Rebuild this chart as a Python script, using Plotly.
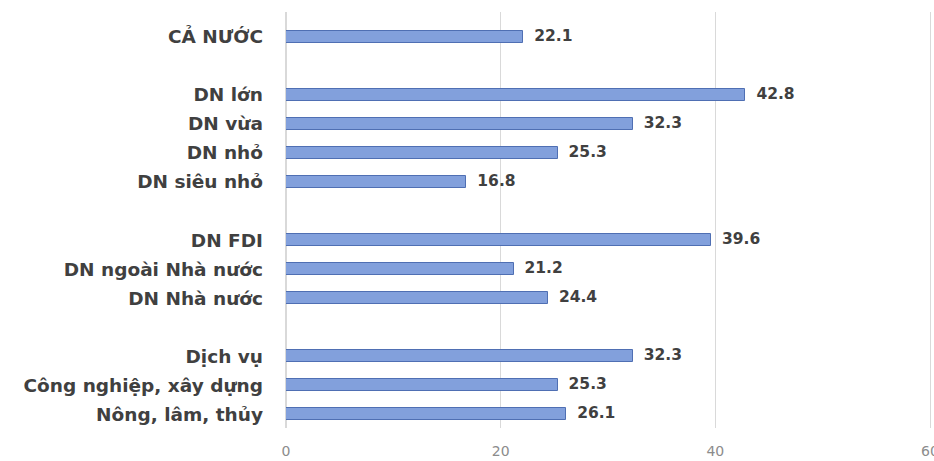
import plotly.graph_objects as go

# Grouped categories (top to bottom); a blank row separates each group
groups = [
    ["CẢ NƯỚC"],
    ["DN lớn", "DN vừa", "DN nhỏ", "DN siêu nhỏ"],
    ["DN FDI", "DN ngoài Nhà nước", "DN Nhà nước"],
    ["Dịch vụ", "Công nghiệp, xây dựng", "Nông, lâm, thủy"],
]
values = [
    [22.1],
    [42.8, 32.3, 25.3, 16.8],
    [39.6, 21.2, 24.4],
    [32.3, 25.3, 26.1],
]
x_ticks = [0, 20, 40, 60]

labels, vals, rows = [], [], []
r = 0
for g, v in zip(groups, values):
    for name, val in zip(g, v):
        labels.append(name)
        vals.append(val)
        rows.append(r)
        r += 1
    r += 1  # blank separator row
n_rows = r - 1

FONT = "DejaVu Sans, Verdana, sans-serif"

fig = go.Figure()
fig.add_trace(go.Bar(
    x=vals, y=rows, orientation="h", width=0.44,
    marker=dict(color="#82a0dc", line=dict(color="#4f6fb3", width=1)),
    hoverinfo="skip",
))
# value labels to the right of each bar
fig.add_trace(go.Scatter(
    x=vals, y=rows, mode="text+markers",
    marker=dict(size=16, color="rgba(0,0,0,0)"),
    text=[f"<b>{v:.1f}</b>" for v in vals], textposition="middle right",
    textfont=dict(family=FONT, size=15.5, color="#404040"),
    cliponaxis=False, hoverinfo="skip",
))

fig.update_layout(
    width=934, height=461,
    margin=dict(l=286, r=0, t=12, b=33),
    paper_bgcolor="white", plot_bgcolor="white",
    showlegend=False, bargap=0,
    xaxis=dict(range=[0, 60.37], tickvals=x_ticks, showgrid=True, gridcolor="#d9d9d9",
               gridwidth=1, zeroline=True, zerolinecolor="#d9d9d9", showline=False,
               tickfont=dict(family=FONT, size=14, color="#8c8c8c"),
               ticks="", ticklabelstandoff=13, ticklabeloverflow="allow",
               automargin=False),
    yaxis=dict(range=[n_rows - 1 + 0.48, -0.86], tickvals=rows,
               ticktext=[f"<b>{t}</b>" for t in labels], showgrid=False,
               zeroline=False, showline=False, ticks="",
               tickfont=dict(family=FONT, size=18.5, color="#404040"),
               ticklabelstandoff=22, automargin=False),
)

fig.write_html("out.html")
